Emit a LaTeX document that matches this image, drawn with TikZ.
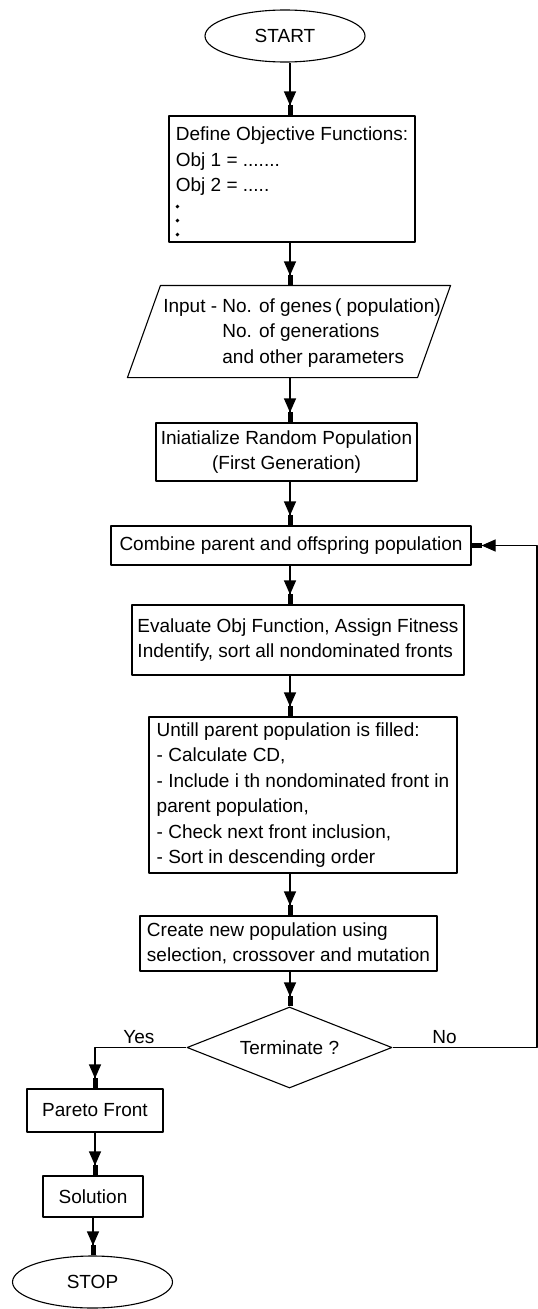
\documentclass[tikz,border=0pt]{standalone}
\usepackage{fontspec}
\setmainfont{Liberation Sans}
\usetikzlibrary{shapes.geometric,arrows.meta}
\begin{document}
\begin{tikzpicture}[x=1pt,y=-1pt,line join=round,line width=1.1pt,
    font=\fontsize{19}{25.5}\selectfont,
    term/.style={draw,ellipse,minimum width=160,minimum height=52,inner sep=0pt},
    box/.style={draw,rectangle,inner sep=4pt},
    flow/.style={-{Triangle[length=14pt,width=12pt]Rectangle[length=10pt,width=5pt]}}]
    \useasboundingbox (0,0) rectangle (538,1309);
    \coordinate (spine) at (290,0);
    \coordinate (back) at (537,0);
    \node[term] (start) at (285,36) {START};
    \node[box,align=left,minimum width=246,minimum height=126] (define) at (292,179)
        {Define Objective Functions:\\Obj 1 = .......\\Obj 2 = .....\\[4pt]\rule{0pt}{30pt}};
    \foreach \k in {8,22,36}
        \fill ([xshift=9pt,yshift=\k pt]define.south west) circle (1.9pt);
    \node[minimum width=289,minimum height=91,inner sep=0pt] (input) at (289,331.5) {};
    \draw ([xshift=16.5]input.north west) -- ([xshift=16.5]input.north east)
        -- ([xshift=-16.5]input.south east) -- ([xshift=-16.5]input.south west) -- cycle;
    \node[align=left,inner sep=0pt] (inputtext) at (302,333)
        {Input - No. of genes\,( population)\\\hphantom{Input - }No. of generations\\\hphantom{Input - }and other parameters};
    \node[box,align=center,minimum width=261,minimum height=58] (init) at (286.5,452)
        {Iniatialize Random Population\\(First Generation)};
    \node[box,minimum width=360,minimum height=39] (comb) at (291,545.5)
        {Combine parent and offspring population};
    \node[box,align=left,minimum width=332,minimum height=70] (eval) at (298,640)
        {Evaluate Obj Function, Assign Fitness\\Indentify, sort all nondominated fronts};
    \node[box,align=left,minimum width=308,minimum height=156] (fill) at (303,795)
        {Untill parent population is filled:\\- Calculate CD,\\- Include i th nondominated front in\\parent population,\\- Check next front inclusion,\\- Sort in descending order};
    \node[box,align=left,minimum width=297,minimum height=55] (create) at (288.5,943.5)
        {Create new population using\\selection, crossover and mutation};
    \node[draw,diamond,aspect=2.5,minimum width=205,minimum height=81,inner sep=0pt] (term) at (289.5,1047.5)
        {Terminate ?};
    \node[box,minimum width=136,minimum height=43] (pareto) at (95,1110.5) {Pareto Front};
    \node[box,minimum width=100,minimum height=41] (sol) at (93,1196.5) {Solution};
    \node[term] (stop) at (92.5,1282) {STOP};
    \draw[flow] (start.south -| spine) -- (define.north -| spine);
    \draw[flow] (define.south -| spine) -- (input.north -| spine);
    \draw[flow] (input.south -| spine) -- (init.north -| spine);
    \draw[flow] (init.south -| spine) -- (comb.north -| spine);
    \draw[flow] (comb.south -| spine) -- (eval.north -| spine);
    \draw[flow] (eval.south -| spine) -- (fill.north -| spine);
    \draw[flow] (fill.south -| spine) -- (create.north -| spine);
    \draw[flow] (create.south -| spine) -- (term.north -| spine);
    \draw[flow] (term.west) -| node[pos=0.26,above] (yes) {Yes} (pareto.north);
    \draw[flow] (term.east) -- node[pos=0.36,above] (no) {No} (term.east -| back) |- (comb.east);
    \draw[flow] (pareto.south) -- (pareto.south |- sol.north);
    \draw[flow] (sol.south) -- (sol.south |- stop.north);
\end{tikzpicture}
\end{document}
